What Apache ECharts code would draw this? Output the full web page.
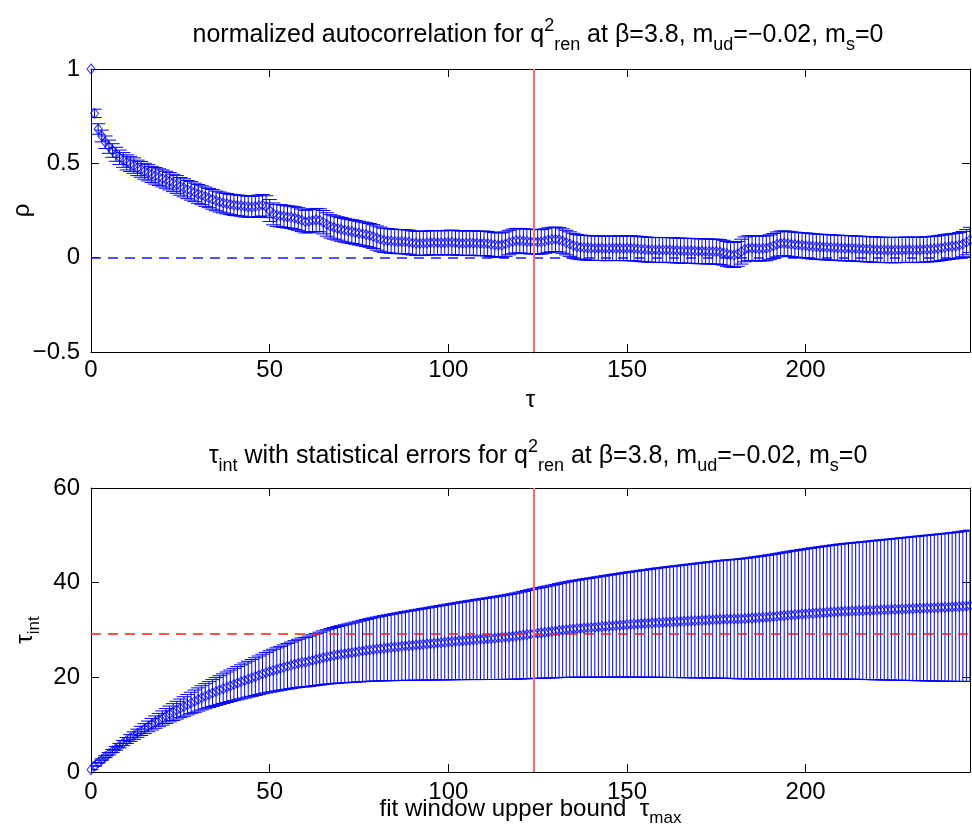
<!DOCTYPE html>
<html><head><meta charset="utf-8">
<script src="https://cdn.jsdelivr.net/npm/echarts@6/dist/echarts.min.js"></script>
<style>html,body{margin:0;padding:0;background:#fff}#c{width:972px;height:828px}</style>
</head><body><div id="c"></div>
<script>
// normalized autocorrelation rho(tau), tau = 0..246
const rho = [
1.000,0.765,0.682,0.645,0.612,0.588,0.568,0.548,0.532,0.518,
0.505,0.497,0.488,0.476,0.468,0.458,0.450,0.441,0.434,0.427,
0.420,0.413,0.405,0.396,0.388,0.378,0.370,0.361,0.354,0.346,
0.338,0.331,0.323,0.316,0.309,0.301,0.295,0.290,0.286,0.282,
0.279,0.277,0.275,0.272,0.270,0.269,0.271,0.275,0.278,0.270,
0.250,0.232,0.224,0.222,0.219,0.216,0.214,0.210,0.205,0.198,
0.191,0.193,0.197,0.200,0.198,0.188,0.176,0.166,0.160,0.155,
0.150,0.145,0.141,0.138,0.134,0.130,0.126,0.122,0.118,0.112,
0.104,0.098,0.092,0.090,0.088,0.086,0.085,0.085,0.084,0.082,
0.078,0.076,0.075,0.076,0.077,0.079,0.080,0.079,0.078,0.079,
0.080,0.081,0.079,0.077,0.076,0.077,0.078,0.077,0.076,0.075,
0.076,0.074,0.071,0.068,0.066,0.067,0.072,0.080,0.086,0.090,
0.090,0.088,0.086,0.085,0.085,0.083,0.084,0.088,0.093,0.096,
0.097,0.095,0.088,0.080,0.072,0.064,0.058,0.055,0.053,0.052,
0.051,0.050,0.050,0.050,0.049,0.049,0.050,0.050,0.050,0.049,
0.050,0.050,0.049,0.047,0.045,0.044,0.042,0.041,0.041,0.040,
0.041,0.041,0.040,0.039,0.038,0.037,0.037,0.036,0.036,0.035,
0.034,0.034,0.033,0.033,0.032,0.032,0.030,0.026,0.020,0.016,
0.014,0.020,0.032,0.044,0.050,0.050,0.049,0.048,0.049,0.050,
0.055,0.062,0.070,0.075,0.076,0.074,0.071,0.069,0.067,0.066,
0.064,0.062,0.060,0.058,0.057,0.056,0.055,0.054,0.053,0.052,
0.051,0.050,0.050,0.049,0.048,0.047,0.046,0.045,0.044,0.043,
0.042,0.041,0.041,0.041,0.040,0.040,0.041,0.041,0.042,0.042,
0.041,0.041,0.042,0.043,0.044,0.045,0.047,0.049,0.052,0.055,
0.058,0.060,0.062,0.066,0.072,0.082,0.094];

const rhoErr = [
0.000,0.022,0.028,0.031,0.033,0.035,0.036,0.037,0.038,0.039,
0.040,0.040,0.041,0.041,0.042,0.042,0.043,0.043,0.044,0.044,
0.045,0.045,0.046,0.046,0.047,0.047,0.048,0.048,0.049,0.049,
0.050,0.050,0.051,0.051,0.052,0.052,0.053,0.053,0.054,0.054,
0.055,0.055,0.055,0.056,0.056,0.056,0.057,0.057,0.057,0.058,
0.058,0.058,0.058,0.059,0.059,0.059,0.059,0.060,0.060,0.060,
0.060,0.061,0.061,0.061,0.061,0.062,0.062,0.062,0.062,0.062,
0.063,0.063,0.063,0.063,0.063,0.063,0.063,0.063,0.063,0.063,
0.064,0.064,0.064,0.064,0.064,0.064,0.064,0.064,0.064,0.064,
0.064,0.064,0.064,0.064,0.064,0.064,0.064,0.064,0.064,0.064,
0.065,0.065,0.065,0.065,0.065,0.065,0.065,0.065,0.065,0.065,
0.065,0.065,0.065,0.065,0.065,0.065,0.065,0.065,0.065,0.065,
0.065,0.065,0.065,0.065,0.065,0.065,0.065,0.065,0.065,0.065,
0.065,0.065,0.065,0.065,0.065,0.065,0.065,0.065,0.065,0.065,
0.065,0.065,0.065,0.065,0.065,0.065,0.065,0.065,0.065,0.065,
0.066,0.066,0.066,0.066,0.066,0.066,0.066,0.066,0.066,0.066,
0.066,0.066,0.066,0.066,0.066,0.066,0.066,0.066,0.066,0.066,
0.066,0.066,0.066,0.066,0.066,0.066,0.066,0.066,0.066,0.066,
0.066,0.066,0.066,0.066,0.066,0.066,0.066,0.066,0.066,0.066,
0.066,0.066,0.066,0.066,0.066,0.066,0.066,0.066,0.066,0.066,
0.067,0.067,0.067,0.067,0.067,0.067,0.067,0.067,0.067,0.067,
0.067,0.067,0.067,0.067,0.067,0.067,0.067,0.067,0.067,0.067,
0.067,0.067,0.067,0.067,0.067,0.067,0.067,0.067,0.067,0.067,
0.067,0.067,0.067,0.067,0.067,0.067,0.067,0.067,0.067,0.067,
0.067,0.067,0.067,0.067,0.067,0.067,0.067];

// integrated autocorrelation time vs fit window upper bound, 0..246
const tauInt = [
0.50,1.27,1.96,2.61,3.24,3.85,4.44,5.01,5.57,6.12,
6.66,7.18,7.69,8.19,8.68,9.16,9.63,10.09,10.54,10.98,
11.41,11.83,12.25,12.66,13.06,13.45,13.84,14.22,14.59,14.96,
15.32,15.67,16.01,16.35,16.68,17.00,17.31,17.61,17.91,18.20,
18.49,18.77,19.05,19.33,19.61,19.88,20.15,20.43,20.71,20.98,
21.23,21.46,21.68,21.90,22.12,22.33,22.54,22.75,22.95,23.15,
23.20,23.39,23.58,23.77,23.96,24.14,24.31,24.47,24.62,24.75,
24.87,24.98,25.09,25.20,25.32,25.44,25.56,25.68,25.79,25.89,
25.98,26.07,26.15,26.23,26.31,26.39,26.47,26.55,26.62,26.69,
26.76,26.83,26.90,26.97,27.04,27.11,27.18,27.25,27.32,27.39,
27.46,27.53,27.60,27.67,27.74,27.80,27.86,27.92,27.98,28.04,
28.10,28.16,28.22,28.28,28.34,28.40,28.47,28.55,28.63,28.72,
28.82,28.92,29.02,29.13,29.24,29.32,29.40,29.49,29.58,29.67,
29.77,29.87,29.97,30.06,30.14,30.21,30.28,30.34,30.40,30.46,
30.52,30.58,30.64,30.70,30.76,30.82,30.88,30.94,31.00,31.06,
31.12,31.17,31.22,31.27,31.32,31.37,31.42,31.47,31.52,31.56,
31.60,31.64,31.68,31.72,31.76,31.80,31.84,31.88,31.92,31.96,
32.00,32.04,32.08,32.12,32.16,32.20,32.24,32.27,32.29,32.31,
32.32,32.34,32.37,32.41,32.46,32.51,32.56,32.61,32.66,32.71,
32.77,32.83,32.90,32.97,33.04,33.11,33.17,33.23,33.29,33.35,
33.41,33.47,33.52,33.57,33.62,33.67,33.72,33.77,33.82,33.87,
33.91,33.94,33.97,34.00,34.03,34.06,34.09,34.12,34.15,34.18,
34.21,34.24,34.27,34.30,34.33,34.36,34.39,34.42,34.45,34.48,
34.51,34.54,34.57,34.60,34.63,34.66,34.69,34.72,34.75,34.78,
34.82,34.86,34.90,34.94,34.99,35.05,35.12];

const tauIntErr = [
0.00,0.05,0.09,0.14,0.20,0.26,0.33,0.40,0.47,0.55,
0.63,0.71,0.79,0.87,0.96,1.05,1.13,1.22,1.31,1.40,
1.50,1.59,1.68,1.78,1.87,1.97,2.07,2.16,2.26,2.36,
2.45,2.55,2.65,2.74,2.84,2.94,3.03,3.13,3.22,3.32,
3.41,3.51,3.60,3.70,3.79,3.89,3.98,4.08,4.18,4.28,
4.37,4.47,4.56,4.64,4.73,4.83,4.91,5.00,5.09,5.18,
5.23,5.32,5.40,5.49,5.58,5.67,5.75,5.83,5.91,5.98,
6.05,6.13,6.19,6.26,6.34,6.41,6.48,6.55,6.62,6.69,
6.76,6.82,6.89,6.95,7.01,7.08,7.14,7.20,7.26,7.32,
7.38,7.44,7.50,7.56,7.62,7.68,7.74,7.80,7.86,7.92,
7.98,8.04,8.10,8.16,8.22,8.28,8.33,8.39,8.45,8.51,
8.57,8.62,8.68,8.74,8.79,8.85,8.91,8.97,9.03,9.10,
9.17,9.24,9.31,9.39,9.46,9.52,9.59,9.66,9.72,9.79,
9.86,9.93,10.00,10.07,10.13,10.19,10.25,10.31,10.37,10.43,
10.49,10.55,10.60,10.66,10.72,10.78,10.84,10.90,10.95,11.01,
11.07,11.12,11.17,11.23,11.29,11.34,11.39,11.45,11.50,11.56,
11.61,11.66,11.71,11.76,11.81,11.86,11.91,11.96,12.01,12.06,
12.12,12.16,12.21,12.27,12.31,12.36,12.42,12.46,12.50,12.55,
12.59,12.63,12.68,12.73,12.78,12.84,12.89,12.94,13.00,13.06,
13.11,13.17,13.23,13.29,13.36,13.42,13.48,13.54,13.59,13.65,
13.71,13.77,13.83,13.88,13.94,13.99,14.05,14.10,14.16,14.21,
14.26,14.31,14.36,14.40,14.45,14.50,14.54,14.59,14.63,14.68,
14.73,14.78,14.82,14.86,14.91,14.96,15.00,15.05,15.10,15.14,
15.19,15.24,15.28,15.33,15.38,15.42,15.47,15.51,15.56,15.61,
15.65,15.71,15.75,15.81,15.86,15.92,15.98];

const windowW = 124;          // chosen fit window (red vertical line)
const xMax = 246;
const capHalf = 2;            // half cap width in tau units

const FONT = "'Liberation Sans', Arial, Helvetica, sans-serif";
const FS = 24;
const rich = {
  sub: {fontSize: 17, fontFamily: FONT, color: '#000', padding: [18, 0, 0, 0]},
  sup: {fontSize: 17, fontFamily: FONT, color: '#000', padding: [0, 0, 18, 0]}
};
const richT = {
  sub: {fontSize: 18, fontFamily: FONT, color: '#000', padding: [19, 0, 0, 0]},
  sup: {fontSize: 18, fontFamily: FONT, color: '#000', padding: [0, 0, 19, 0]}
};

const rhoData = rho.map((v, i) => [i, v, rhoErr[i]]);
const tauData = tauInt.map((v, i) => [i, v, tauIntErr[i]]);

function errRender(params, api) {
  const x = api.value(0), y = api.value(1), e = api.value(2);
  const p1 = api.coord([x, y + e]), p2 = api.coord([x, y - e]);
  const h = api.size([capHalf, 0])[0];
  const st = {stroke: '#0000ff', lineWidth: 1};
  return {type: 'group', children: [
    {type: 'line', shape: {x1: p1[0], y1: p1[1], x2: p2[0], y2: p2[1]}, style: st},
    {type: 'line', shape: {x1: p1[0] - h, y1: p1[1], x2: p1[0] + h, y2: p1[1]}, style: st},
    {type: 'line', shape: {x1: p2[0] - h, y1: p2[1], x2: p2[0] + h, y2: p2[1]}, style: st}
  ]};
}

const axLine = {show: true, onZero: false, lineStyle: {color: '#000', width: 1}};
const axTick = {show: true, inside: true, length: 8, lineStyle: {color: '#000', width: 1}};
const minusFmt = v => String(v).replace('-', '\u2212');

function xAxis(grid, pos, labels, name, nameGap, margin) {
  return {
    type: 'value', gridIndex: grid, position: pos, min: 0, max: xMax, interval: 50,
    axisLine: axLine, axisTick: axTick, splitLine: {show: false},
    axisLabel: {show: labels, margin: margin || 6, fontSize: FS, fontFamily: FONT, color: '#000', showMaxLabel: false},
    name: name || '', nameLocation: 'middle', nameGap: nameGap || 0, nameMoveOverlap: false,
    nameTextStyle: {fontSize: FS, fontFamily: FONT, color: '#000', rich: rich}
  };
}
function yAxis(grid, pos, labels, mn, mx, iv, name, nameGap) {
  return {
    type: 'value', gridIndex: grid, position: pos, min: mn, max: mx, interval: iv,
    axisLine: axLine, axisTick: axTick, splitLine: {show: false},
    axisLabel: {show: labels, margin: 11, fontSize: FS, fontFamily: FONT, color: '#000', formatter: minusFmt},
    name: name || '', nameLocation: 'middle', nameGap: nameGap || 0, nameRotate: 90, nameMoveOverlap: false,
    nameTextStyle: {fontSize: FS, fontFamily: FONT, color: '#000', rich: rich}
  };
}

const titleStyle = {fontSize: 25, fontWeight: 'normal', fontFamily: FONT, color: '#000', rich: richT};

const blueDash = {color: '#1a1aff', width: 1.5, type: [10, 7], opacity: 1};
const redDash = {color: '#ff1a1a', width: 1.5, type: [10, 7], opacity: 1};
const redSolid = {color: '#ff6a6a', width: 2, type: 'solid', opacity: 1};

const option = {
  animation: false,
  backgroundColor: '#fff',
  title: [
    {text: 'normalized autocorrelation for q{sup|2}{sub|ren} at \u03b2=3.8, m{sub|ud}=\u22120.02, m{sub|s}=0',
     left: 533, top: 12, textAlign: 'center', textStyle: titleStyle},
    {text: '\u03c4{sub|int} with statistical errors for q{sup|2}{sub|ren} at \u03b2=3.8, m{sub|ud}=\u22120.02, m{sub|s}=0',
     left: 533, top: 433, textAlign: 'center', textStyle: titleStyle}
  ],
  grid: [
    {left: 91, top: 69, width: 879, height: 283, containLabel: false, outerBoundsMode: 'none'},
    {left: 91, top: 488, width: 879, height: 284, containLabel: false, outerBoundsMode: 'none'}
  ],
  xAxis: [
    xAxis(0, 'bottom', true, '\u03c4', 36, 6),
    xAxis(0, 'top', false),
    xAxis(1, 'bottom', true, 'fit window upper bound  \u03c4{sub|max}', 20, 8),
    xAxis(1, 'top', false)
  ],
  yAxis: [
    yAxis(0, 'left', true, -0.5, 1, 0.5, '\u03c1', 57),
    yAxis(0, 'right', false, -0.5, 1, 0.5),
    yAxis(1, 'left', true, 0, 60, 20, '\u03c4{sub|int}', 48),
    yAxis(1, 'right', false, 0, 60, 20)
  ],
  series: [
    {type: 'line', xAxisIndex: 0, yAxisIndex: 0, data: [], z: 1, silent: true,
     markLine: {silent: true, z: 1, symbol: ['none', 'none'], label: {show: false},
       lineStyle: blueDash, data: [{yAxis: 0, lineStyle: blueDash}]}},
    {type: 'custom', xAxisIndex: 0, yAxisIndex: 0, data: rhoData, renderItem: errRender,
     encode: {x: 0, y: 1}, clip: true, z: 2, silent: true},
    {type: 'scatter', xAxisIndex: 0, yAxisIndex: 0, data: rhoData.map(d => [d[0], d[1]]),
     symbol: 'diamond', symbolSize: [8, 10], clip: false, z: 3, silent: true,
     itemStyle: {color: 'rgba(0,0,0,0)', borderColor: '#0000ff', borderWidth: 1}},
    {type: 'line', xAxisIndex: 0, yAxisIndex: 0, data: [], z: 6, silent: true,
     markLine: {silent: true, symbol: ['none', 'none'], label: {show: false},
       lineStyle: redSolid, data: [{xAxis: windowW, lineStyle: redSolid}]}},

    {type: 'custom', xAxisIndex: 2, yAxisIndex: 2, data: tauData, renderItem: errRender,
     encode: {x: 0, y: 1}, clip: true, z: 2, silent: true},
    {type: 'scatter', xAxisIndex: 2, yAxisIndex: 2, data: tauData.map(d => [d[0], d[1]]),
     symbol: 'diamond', symbolSize: [8, 10], clip: false, z: 3, silent: true,
     itemStyle: {color: 'rgba(0,0,0,0)', borderColor: '#0000ff', borderWidth: 1}},
    {type: 'line', xAxisIndex: 2, yAxisIndex: 2, data: [], z: 6, silent: true,
     markLine: {silent: true, symbol: ['none', 'none'], label: {show: false},
       lineStyle: redDash,
       data: [{yAxis: tauInt[windowW], lineStyle: redDash}]}},
    {type: 'line', xAxisIndex: 2, yAxisIndex: 2, data: [], z: 7, silent: true,
     markLine: {silent: true, symbol: ['none', 'none'], label: {show: false},
       lineStyle: redSolid, data: [{xAxis: windowW, lineStyle: redSolid}]}}
  ]
};

const chart = echarts.init(document.getElementById('c'), null, {renderer: 'canvas'});
chart.setOption(option);
</script></body></html>
